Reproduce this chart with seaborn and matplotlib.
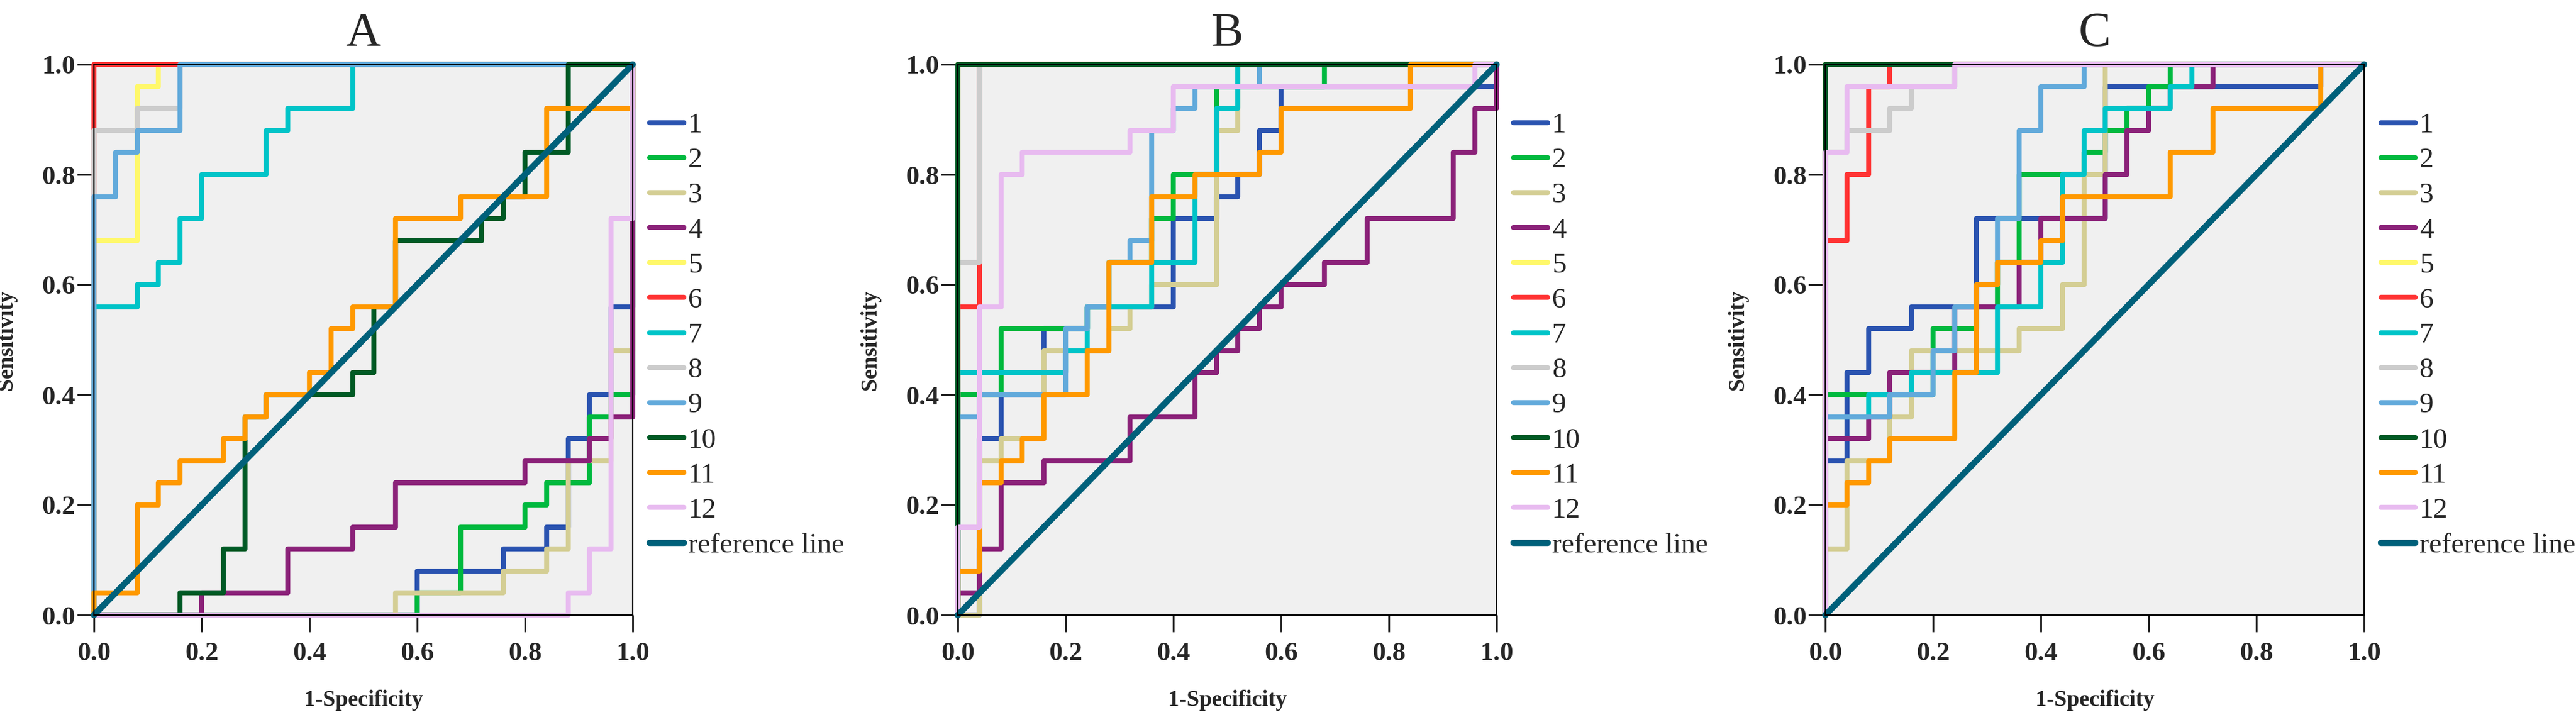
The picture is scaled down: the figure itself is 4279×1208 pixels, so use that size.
import matplotlib
matplotlib.use("Agg")
import matplotlib.pyplot as plt
import seaborn as sns

# ROC corner points per series (steps-pre: rise at previous x, then run to this x)
SERIES = ["1", "2", "3", "4", "5", "6", "7", "8", "9", "10", "11", "12"]
PANELS = ["A", "B", "C"]

FPR_A = [
    [0, 0.60, 0.76, 0.84, 0.88, 0.92, 0.96, 1, 1],
    [0, 0.60, 0.68, 0.80, 0.84, 0.92, 0.96, 1, 1],
    [0, 0.56, 0.76, 0.84, 0.88, 0.96, 1, 1],
    [0, 0.20, 0.36, 0.48, 0.56, 0.80, 0.92, 0.96, 1, 1],
    [0, 0.08, 0.12, 1],
    [0, 1],
    [0, 0.08, 0.12, 0.16, 0.20, 0.32, 0.36, 0.48, 1],
    [0, 0.08, 0.16, 1],
    [0, 0.04, 0.08, 0.16, 1],
    [0, 0.16, 0.24, 0.28, 0.32, 0.48, 0.52, 0.56, 0.72, 0.76, 0.80, 0.88, 1],
    [0, 0.08, 0.12, 0.16, 0.24, 0.28, 0.32, 0.40, 0.44, 0.48, 0.56, 0.68, 0.84, 1, 1],
    [0, 0.88, 0.92, 0.96, 1, 1],
]
TPR_A = [
    [0, 0, 0.08, 0.12, 0.16, 0.32, 0.40, 0.56, 1],
    [0, 0, 0.04, 0.16, 0.20, 0.24, 0.36, 0.40, 1],
    [0, 0, 0.04, 0.08, 0.12, 0.28, 0.48, 1],
    [0, 0, 0.04, 0.12, 0.16, 0.24, 0.28, 0.32, 0.36, 1],
    [0, 0.68, 0.96, 1],
    [0, 1],
    [0, 0.56, 0.60, 0.64, 0.72, 0.80, 0.88, 0.92, 1],
    [0, 0.88, 0.92, 1],
    [0, 0.76, 0.84, 0.88, 1],
    [0, 0, 0.04, 0.12, 0.36, 0.40, 0.44, 0.56, 0.68, 0.72, 0.76, 0.84, 1],
    [0, 0.04, 0.20, 0.24, 0.28, 0.32, 0.36, 0.40, 0.44, 0.52, 0.56, 0.72, 0.76, 0.92, 1],
    [0, 0, 0.04, 0.12, 0.72, 1],
]

FPR_B = [
    [0, 0.04, 0.08, 0.16, 0.24, 0.40, 0.48, 0.52, 0.56, 0.60, 1, 1],
    [0, 0.08, 0.24, 0.28, 0.36, 0.40, 0.48, 0.68, 1],
    [0, 0.04, 0.08, 0.16, 0.28, 0.32, 0.36, 0.48, 0.52, 1],
    [0, 0.04, 0.08, 0.16, 0.32, 0.44, 0.48, 0.52, 0.56, 0.60, 0.68, 0.76, 0.92, 0.96, 1, 1],
    [0, 1],
    [0, 0.04, 1],
    [0, 0.20, 0.24, 0.36, 0.44, 0.48, 0.52, 1],
    [0, 0.04, 1],
    [0, 0.04, 0.20, 0.24, 0.28, 0.32, 0.36, 0.40, 0.44, 0.56, 1],
    [0, 1],
    [0, 0.04, 0.08, 0.12, 0.16, 0.24, 0.28, 0.36, 0.44, 0.56, 0.60, 0.84, 1],
    [0, 0.04, 0.08, 0.12, 0.32, 0.40, 0.96, 1],
]
TPR_B = [
    [0, 0, 0.32, 0.40, 0.52, 0.56, 0.72, 0.76, 0.80, 0.88, 0.96, 1],
    [0, 0.40, 0.52, 0.56, 0.64, 0.72, 0.80, 0.96, 1],
    [0, 0, 0.28, 0.32, 0.48, 0.52, 0.56, 0.60, 0.88, 1],
    [0, 0.04, 0.12, 0.24, 0.28, 0.36, 0.44, 0.48, 0.52, 0.56, 0.60, 0.64, 0.72, 0.84, 0.92, 1],
    [0, 1],
    [0, 0.56, 1],
    [0, 0.44, 0.48, 0.56, 0.64, 0.80, 0.92, 1],
    [0, 0.64, 1],
    [0, 0.36, 0.40, 0.52, 0.56, 0.64, 0.68, 0.88, 0.92, 0.96, 1],
    [0, 1],
    [0, 0.08, 0.24, 0.28, 0.32, 0.40, 0.48, 0.64, 0.76, 0.80, 0.84, 0.92, 1],
    [0, 0.16, 0.56, 0.80, 0.84, 0.88, 0.96, 1],
]

FPR_C = [
    [0, 0.04, 0.08, 0.16, 0.28, 0.52, 0.92, 1],
    [0, 0.20, 0.28, 0.32, 0.36, 0.48, 0.52, 0.56, 0.60, 0.64, 1],
    [0, 0.04, 0.12, 0.16, 0.36, 0.44, 0.48, 0.52, 1],
    [0, 0.08, 0.12, 0.24, 0.36, 0.40, 0.52, 0.56, 0.60, 0.64, 0.72, 1],
    [0, 1],
    [0, 0.04, 0.08, 0.12, 1],
    [0, 0.08, 0.16, 0.32, 0.40, 0.44, 0.48, 0.52, 0.64, 0.68, 1],
    [0, 0.04, 0.12, 0.16, 0.24, 1],
    [0, 0.12, 0.20, 0.24, 0.28, 0.32, 0.36, 0.40, 0.48, 1],
    [0, 1],
    [0, 0.04, 0.08, 0.12, 0.24, 0.28, 0.32, 0.40, 0.44, 0.64, 0.72, 0.92, 1],
    [0, 0.04, 0.24, 1],
]
TPR_C = [
    [0, 0.28, 0.44, 0.52, 0.56, 0.72, 0.96, 1],
    [0, 0.40, 0.52, 0.56, 0.64, 0.80, 0.84, 0.88, 0.92, 0.96, 1],
    [0, 0.12, 0.28, 0.36, 0.48, 0.52, 0.60, 0.80, 1],
    [0, 0.32, 0.36, 0.44, 0.56, 0.64, 0.72, 0.80, 0.88, 0.92, 0.96, 1],
    [0, 1],
    [0, 0.68, 0.80, 0.96, 1],
    [0, 0.36, 0.40, 0.44, 0.56, 0.64, 0.80, 0.88, 0.92, 0.96, 1],
    [0, 0.84, 0.88, 0.92, 0.96, 1],
    [0, 0.36, 0.40, 0.48, 0.56, 0.60, 0.72, 0.88, 0.96, 1],
    [0, 1],
    [0, 0.20, 0.24, 0.28, 0.32, 0.44, 0.60, 0.64, 0.68, 0.76, 0.84, 0.92, 1],
    [0, 0.84, 0.96, 1],
]

REF_X = [0, 1]
REF_Y = [0, 1]
TICKS = [0.0, 0.2, 0.4, 0.6, 0.8, 1.0]

COLORS = ["#2A53B0", "#00B93F", "#D4CE94", "#8B2279", "#FFF86A", "#FF3333",
          "#00C4C8", "#CCCCCC", "#62AADB", "#005A25", "#FF9900", "#E8BBF0"]
REF_COLOR = "#00607A"

sns.set_style("ticks")
plt.rcParams["font.family"] = ["Liberation Serif", "DejaVu Serif"]

W, H = 4279, 1208
fig = plt.figure(figsize=(W / 100, H / 100), dpi=100)

lefts = [156, 1591, 3032]
ax_w, ax_h = 895, 915
ax_bottom = H - 1022

data = {"A": (FPR_A, TPR_A), "B": (FPR_B, TPR_B), "C": (FPR_C, TPR_C)}

for panel, left in zip(PANELS, lefts):
    ax = fig.add_axes([left / W, ax_bottom / H, ax_w / W, ax_h / H])
    ax.set_facecolor("#F0F0F0")
    fprs, tprs = data[panel]
    for name, fx, ty, col in zip(SERIES, fprs, tprs, COLORS):
        sns.lineplot(x=fx, y=ty, ax=ax, color=col, linewidth=6, sort=False,
                     estimator=None, drawstyle="steps-pre", clip_on=False)
    sns.lineplot(x=REF_X, y=REF_Y, ax=ax, color=REF_COLOR, linewidth=7.5,
                 sort=False, estimator=None, clip_on=False)

    ax.set_xlim(0, 1)
    ax.set_ylim(0, 1)
    ax.set_xticks(TICKS)
    ax.set_yticks(TICKS)
    ax.set_xticklabels([f"{t:.1f}" for t in TICKS], fontsize=32, fontweight="bold")
    ax.set_yticklabels([f"{t:.1f}" for t in TICKS], fontsize=32, fontweight="bold")
    ax.tick_params(axis="both", direction="out", length=20, width=2.2, color="#222222")
    ax.tick_params(axis="x", pad=12)
    ax.tick_params(axis="y", pad=2)
    for sp in ax.spines.values():
        sp.set_visible(True)
        sp.set_color("black")
        sp.set_linewidth(1.6)

    ax.set_xlabel("1-Specificity", fontsize=27, fontweight="bold")
    ax.set_ylabel("Sensitivity", fontsize=27, fontweight="bold")
    ax.xaxis.set_label_coords(0.5, -124 / ax_h)
    ax.yaxis.set_label_coords(-128 / ax_w, 0.5)
    ax.set_title(panel, fontsize=58, pad=22)

    lines = ax.get_lines()
    ax.legend(lines[:13], SERIES + ["reference line"], loc="upper left",
              bbox_to_anchor=(1.0 + 28 / ax_w, 1.0 - 80 / ax_h), frameon=False,
              fontsize=34, handlelength=1.2, handletextpad=0.15,
              labelspacing=0.32, borderpad=0, borderaxespad=0)

fig.savefig("out.png", dpi=100)
